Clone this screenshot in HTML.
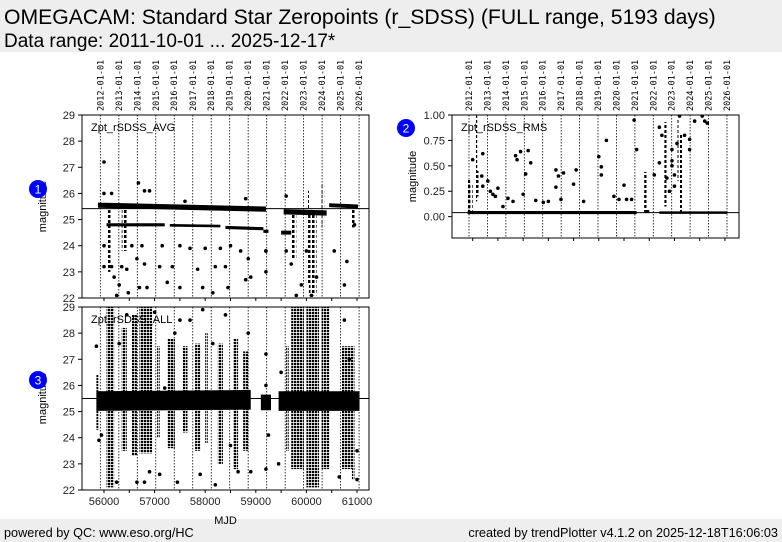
<!DOCTYPE html>
<html><head><meta charset="utf-8">
<style>
body{margin:0;width:782px;height:542px;background:#fff;overflow:hidden;font-family:"Liberation Sans",sans-serif}
svg{position:absolute;left:0;top:0}
</style></head><body>
<svg id="s" width="782" height="542" xmlns="http://www.w3.org/2000/svg">
<defs>
<pattern id="scat" width="3" height="3" patternUnits="userSpaceOnUse"><rect x="0" y="0" width="2.3" height="2.2" fill="#000"/></pattern>
<pattern id="scat2" width="4" height="5" patternUnits="userSpaceOnUse"><rect x="0" y="0" width="2.5" height="3" fill="#000"/></pattern>
</defs>
<rect x="0" y="0" width="782" height="52" fill="#eeeeee"/>
<text x="4" y="24" font-size="21.2">OMEGACAM: Standard Star Zeropoints (r_SDSS) (FULL range, 5193 days)</text>
<text x="4" y="47" font-size="19">Data range: 2011-10-01 ... 2025-12-17*</text>
<rect x="0" y="519" width="782" height="23" fill="#eeeeee"/>
<text x="4" y="537" font-size="12.7">powered by QC: www.eso.org/HC</text>
<text x="778" y="537" font-size="12.7" text-anchor="end">created by trendPlotter v4.1.2 on 2025-12-18T16:06:03</text>
<g id="g"></g>
</svg>
<script>
const years=['2012-01-01','2013-01-01','2014-01-01','2015-01-01','2016-01-01','2017-01-01','2018-01-01','2019-01-01','2020-01-01','2021-01-01','2022-01-01','2023-01-01','2024-01-01','2025-01-01','2026-01-01'];
const yearMjd=[55927,56293,56658,57023,57388,57754,58119,58484,58849,59215,59580,59945,60310,60676,61041];
const magTicks=[22,23,24,25,26,27,28,29];
const rmsTicks=[0,0.25,0.5,0.75,1.0];
const mjdTicks=[56000,57000,58000,59000,60000,61000];
const avgRef=25.42, allRef=25.5, rmsRef=0.04;
// bands: [mjdStart, mjdEnd, magStart, magEnd, thickness in mag]
const avgBands=[[55880,59200,25.55,25.4,0.2],[59550,60400,25.3,25.25,0.2],[60450,61020,25.55,25.5,0.15],
 [56050,57200,24.8,24.8,0.12],[57300,58300,24.78,24.75,0.1],[58400,59150,24.7,24.65,0.12],[59150,59250,24.55,24.55,0.12],[59500,59700,24.5,24.5,0.15]];
// columns of scatter: [mjdStart, mjdEnd, lo, hi]
const avgCols=[[56050,56150,23,25.5],[56350,56450,23.8,25.5],[59700,59800,23.5,25.3],[60050,60200,22.1,25.3],[60000,60050,22.5,26.1],[60300,60350,24.7,26.4],[60900,60950,24.7,25.5]];
const avgPts=[[56000,27.2],[56000,26.0],[56150,26.0],[56300,22.5],[56250,22.1],[56000,24],[56000,23.2],[56150,23.2],[56200,22.8],[56350,23.2],[56450,23.1],[56480,22.2],[56550,24],[56650,23.5],[56700,22.4],[56800,23.3],[56850,22.4],[56680,26.4],[56800,26.1],[56900,26.1],[56750,24],[57100,23.2],[57150,24],[57250,22.6],[57350,23.2],[57500,24],[57500,22.4],[57600,25.7],[57700,23.9],[57850,23.1],[57950,22.4],[58000,23.9],[58150,22.2],[58200,23.2],[58300,23.9],[58400,23.2],[58450,22.4],[58500,24],[58700,23.8],[58800,22.7],[58850,23.5],[58900,22.8],[58800,25.8],[59200,23.8],[59200,23],[59200,23.8],[59600,23.8],[59700,23.3],[59600,25.9],[59800,22.1],[59900,22.5],[60000,23.8],[60100,22.1],[60200,22.8],[60550,23.8],[60750,22.5],[60800,23.4],[60950,24.8]];
const rmsBands=[[55900,59250,0.04,0.04,0.03],[59400,59500,0.05,0.05,0.03],[59700,61050,0.04,0.04,0.025]];
const rmsCols=[[55900,55930,0.04,0.38],[55950,55970,0.05,0.32],[56040,56070,0.15,1.0],[56080,56110,0.2,0.45],[59400,59420,0.05,0.44],[59800,59820,0.1,0.93],[60060,60080,0.35,0.97],[60100,60120,0.04,0.82]];
const rmsPts=[[56000,0.56],[56180,0.4],[56200,0.3],[56200,0.62],[56300,0.35],[56350,0.25],[56400,0.22],[56450,0.2],[56500,0.28],[56600,0.1],[56700,0.18],[56800,0.15],[56850,0.6],[56880,0.56],[56950,0.64],[57000,0.22],[57050,0.42],[57100,0.65],[57150,0.53],[57250,0.16],[57400,0.14],[57500,0.15],[57650,0.46],[57650,0.29],[57700,0.4],[57750,0.17],[57800,0.43],[58000,0.32],[58050,0.46],[58200,0.15],[58500,0.59],[58550,0.49],[58550,0.41],[58650,0.75],[58800,0.2],[58900,0.17],[59000,0.31],[59050,0.17],[59150,0.17],[59200,0.95],[59250,0.66],[59600,0.41],[59700,0.53],[59750,0.8],[59700,0.88],[59850,0.38],[59950,0.66],[59950,0.55],[59950,0.5],[59900,0.25],[60000,0.3],[60050,0.72],[60000,0.41],[60100,0.99],[60200,0.8],[60300,0.66],[60300,0.76],[60400,0.94],[60550,0.99],[60600,0.94],[60650,0.92]];
const allBands=[[55850,58900,25.4,25.45,0.75],[59100,59300,25.35,25.35,0.6],[59450,61050,25.4,25.4,0.75]];
const allCols=[[55850,55900,24.3,26.4],[56050,56200,22.1,29],[56350,56450,23.5,28.2],[56550,56650,23.3,28.7],[56700,56950,23.4,29],[57050,57100,24,27.5],[57250,57400,23.6,27.8],[57550,57650,24.2,27.5],[57800,57900,23.5,27.6],[58000,58050,23.8,28],[58250,58350,23,27.6],[58550,58650,22.8,27.8],[58750,58850,23.5,27.3],[59600,59650,23.5,27.5],[59700,59950,22.8,29],[60000,60250,22.1,29],[60300,60450,22.8,29],[60700,60900,22.8,27.5],[60900,60950,22.4,27.5]];
const allPts=[[55850,27.5],[55900,23.9],[55950,24.1],[56250,22.3],[56300,27.6],[56450,28.7],[56650,22.3],[56800,22.3],[56900,22.7],[57000,28.8],[57100,22.6],[57200,25.9],[57450,22.3],[57500,28.5],[57400,28.0],[57700,28.5],[57900,22.6],[57950,28.9],[58200,22.2],[58150,27.6],[58400,28.7],[58500,23.7],[58650,22.7],[58900,22.7],[58850,28.0],[59200,27.2],[59200,26.0],[59200,22.8],[59250,24.1],[59500,26.5],[59450,23.0],[60650,22.5],[60750,28.5],[60850,27.0],[61000,22.4],[61000,23.5]];

const NS='http://www.w3.org/2000/svg';
const G=document.getElementById('g');
function mk(t,a,parent){const e=document.createElementNS(NS,t);for(const k in a)e.setAttribute(k,a[k]);(parent||G).appendChild(e);return e;}
function panel(o){
  const g=mk('g',{});
  
  
  const X=m=>o.x0+(m-o.m0)/(o.m1-o.m0)*o.w;
  const Y=v=>o.y0+o.h-(v-o.v0)/(o.v1-o.v0)*o.h;
  const clipId='c'+o.name;
  const cp=mk('clipPath',{id:clipId},g);mk('rect',{x:o.x0,y:o.y0,width:o.w,height:o.h},cp);
  const d=mk('g',{'clip-path':'url(#'+clipId+')'},g);
  yearMjd.forEach((m,i)=>{
    const l=mk('line',{x1:X(m),x2:X(m),y1:o.y0,y2:o.y0+o.h,stroke:'#000','stroke-width':0.8,'stroke-dasharray':'1.5,1.5'},d);
    
    
    if(o.yl){
      const t=mk('text',{x:0,y:0,'font-size':8.5,'font-family':'"DejaVu Sans Mono","Liberation Mono",monospace',transform:`translate(${X(m)+3},${o.y0-4}) rotate(-90)`},g);
      t.textContent=years[i];
      
      
    }
  });
  o.bands.forEach(b=>{
    const p=mk('polygon',{points:`${X(b[0])},${Y(b[2]+b[4]/2)} ${X(b[1])},${Y(b[3]+b[4]/2)} ${X(b[1])},${Y(b[3]-b[4]/2)} ${X(b[0])},${Y(b[2]-b[4]/2)}`,fill:'#000'},d);
    
    
  });
  o.cols.forEach(c=>{
    const r=mk('rect',{x:X(c[0]),y:Y(c[3]),width:Math.max(2.5,X(c[1])-X(c[0])),height:Y(c[2])-Y(c[3]),fill:o.pat},d);
    
    
  });
  o.pts.forEach(p=>{
    const c=mk('circle',{cx:X(p[0]),cy:Y(p[1]),r:1.8,fill:'#000'},d);
    
    
  });
  const rl=mk('line',{x1:o.x0,x2:o.x0+o.w,y1:Y(o.ref),y2:Y(o.ref),stroke:'#000','stroke-width':1},d);
  
  
  const fr=mk('rect',{x:o.x0,y:o.y0,width:o.w,height:o.h,fill:'none',stroke:'#000','stroke-width':1},g);
  
  
  o.yt.forEach(v=>{
    mk('line',{x1:o.x0-4,x2:o.x0,y1:Y(v),y2:Y(v),stroke:'#000'},g);
    const t=mk('text',{x:o.x0-7,y:Y(v)+4,'font-size':11,'text-anchor':'end',fill:'#222'},g);
    t.textContent=o.fmt(v);
    
    
  });
  for(let m=56000;m<=61000;m+=500){mk('line',{x1:X(m),x2:X(m),y1:o.y0+o.h,y2:o.y0+o.h+3,stroke:'#000'},g);}
  if(o.xl){mjdTicks.forEach(m=>{
    const t=mk('text',{x:X(m),y:o.y0+o.h+15,'font-size':11,'text-anchor':'middle',fill:'#222'},g);
    t.textContent=m;
    
    
  });
    const xt=mk('text',{x:o.x0+o.w/2,y:o.y0+o.h+34,'font-size':11,'text-anchor':'middle'},g);xt.textContent='MJD';
    
    
  }
  const yl=mk('text',{x:0,y:0,'font-size':11,'text-anchor':'middle',transform:`translate(${o.x0-36},${o.y0+o.h/2}) rotate(-90)`},g);yl.textContent='magnitude';
  
  
  const lb=mk('text',{x:o.x0+9,y:o.y0+16,'font-size':11},g);lb.textContent=o.label;
  
  
  const bc=mk('circle',{cx:o.bx,cy:o.by,r:9,fill:'#0000ff'},g);
  
  
  const bt=mk('text',{x:o.bx,y:o.by+4.5,'font-size':12,'text-anchor':'middle',fill:'#fff'},g);bt.textContent=o.num;
}
panel({name:'avg-panel',x0:82,y0:115,w:287,h:183,m0:55565,m1:61237,v0:22,v1:29,yt:magTicks,fmt:v=>v,ref:avgRef,bands:avgBands,cols:avgCols,pts:avgPts,label:'Zpt_rSDSS_AVG',bx:38,by:189,num:'1',xl:false,yl:true,pat:'url(#scat2)'});
panel({name:'all-panel',x0:82,y0:307,w:287,h:183,m0:55565,m1:61237,v0:22,v1:29,yt:magTicks,fmt:v=>v,ref:allRef,bands:allBands,cols:allCols,pts:allPts,label:'Zpt_rSDSS_ALL',bx:38,by:380,num:'3',xl:true,yl:false,pat:'url(#scat)'});
panel({name:'rms-panel',x0:452,y0:115,w:287,h:123,m0:55590,m1:61279,v0:-0.21,v1:1.0,yt:rmsTicks,fmt:v=>v.toFixed(2),ref:rmsRef,bands:rmsBands,cols:rmsCols,pts:rmsPts,label:'Zpt_rSDSS_RMS',bx:406,by:128,num:'2',xl:false,yl:true,pat:'url(#scat2)'});
</script>
</body></html>
